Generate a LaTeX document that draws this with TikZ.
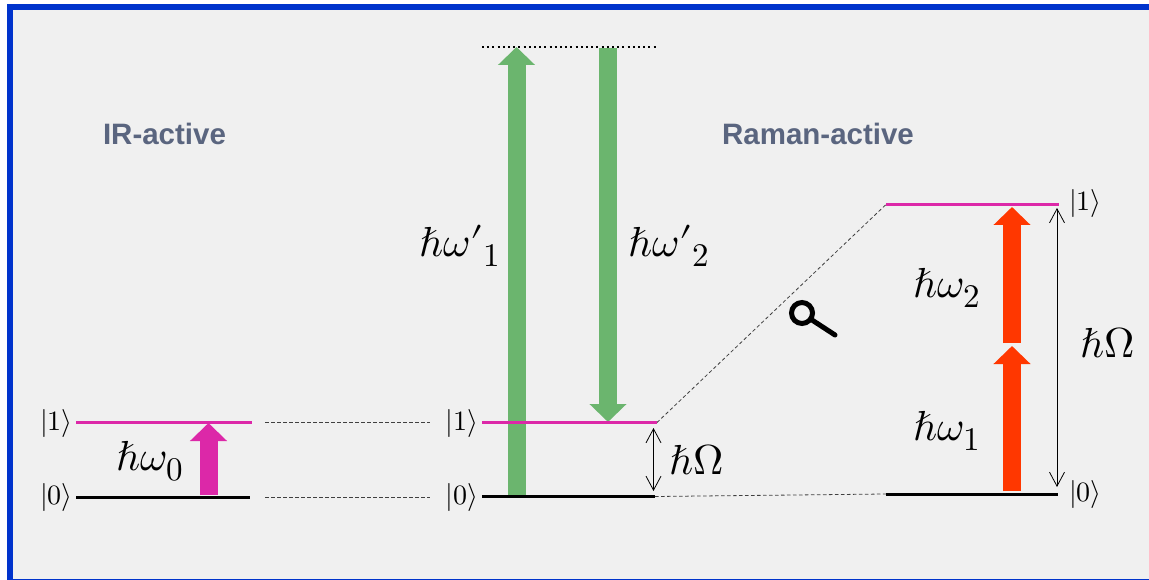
\documentclass[tikz,border=0pt]{standalone}
\usepackage{fontspec}
\usepackage{unicode-math}
\setmainfont{Liberation Sans}
\setmathfont{Latin Modern Math}
\DeclareMathSizes{42}{42}{33}{25}
\usetikzlibrary{arrows.meta}
\definecolor{framecol}{HTML}{0033CC}
\definecolor{panelcol}{HTML}{F0F0F0}
\definecolor{pinkcol}{HTML}{DC28A8}
\definecolor{greencol}{HTML}{6BB56E}
\definecolor{redcol}{HTML}{FF3700}
\definecolor{titlecol}{HTML}{5A657F}
\tikzset{
  lvlpink/.style={draw=pinkcol,line width=3pt},
  lvlblack/.style={draw=black,line width=3pt},
  guide/.style={draw=black!75,line width=0.8pt,dash pattern=on 3.5pt off 2.5pt},
  fat/.style={line width=18pt,-{Triangle[length=18pt,width=36pt]}},
  gap/.style={line width=0.8pt,{Straight Barb[length=14pt,width=15pt]}-{Straight Barb[length=14pt,width=15pt]}},
  ket/.style={font=\fontsize{28}{30}\selectfont},
  energy/.style={font=\fontsize{42}{44}\selectfont},
  heading/.style={font=\fontsize{29.5}{32}\selectfont\bfseries,text=titlecol},
}
\begin{document}
\begin{tikzpicture}[x=1pt,y=-1pt]
  \useasboundingbox (0,0) rectangle (1149,580);
  % frame
  \fill[framecol] (7,4) rectangle (1149,580);
  \fill[panelcol] (13,10) rectangle (1149,578.5);
  % level ends
  \coordinate (LoneA) at (76,422.5);
  \coordinate (LoneB) at (252,422.5);
  \coordinate (LzeroA) at (76,497);
  \coordinate (LzeroB) at (250,497);
  \coordinate (MoneA) at (482,422.5);
  \coordinate (MoneB) at (657,422.5);
  \coordinate (MzeroA) at (482,496.5);
  \coordinate (MzeroB) at (655,496.5);
  \coordinate (RoneA) at (886,204.5);
  \coordinate (RoneB) at (1059,204.5);
  \coordinate (RzeroA) at (886,494);
  \coordinate (RzeroB) at (1058,494);
  \coordinate (VirtA) at (482,47);
  \coordinate (VirtB) at (657,47);
  % guides
  \draw[guide] (265,422.5) -- (430,422.5);
  \draw[guide] (265,497) -- (430,497);
  \draw[guide] (MoneB) -- (RoneA);
  \draw[guide] (MzeroB) -- (RzeroA);
  \draw[black,line width=2pt,dash pattern=on 2pt off 3.2pt] (VirtA) -- (VirtB);
  % arrows
  \draw[fat,pinkcol] (208.5,495) -- (208.5,423);
  \draw[fat,greencol] (516.5,495) -- (516.5,47);
  \draw[fat,greencol] (608,48) -- (608,422);
  \draw[fat,redcol] (1012,343) -- (1012,207);
  \draw[fat,redcol] (1012,491) -- (1012,346);
  % levels
  \draw[lvlpink] (LoneA) -- (LoneB);
  \draw[lvlblack] (LzeroA) -- (LzeroB);
  \draw[lvlpink] (MoneA) -- (MoneB);
  \draw[lvlblack] (MzeroA) -- (MzeroB);
  \draw[lvlpink] (RoneA) -- (RoneB);
  \draw[lvlblack] (RzeroA) -- (RzeroB);
  % gaps
  \draw[gap] (653.5,428) -- (653.5,491);
  \draw[gap] (1057,208) -- (1057,487);
  % magnifier
  \draw[line width=5pt] (802,313) circle (10.5);
  \draw[line width=5pt,line cap=round] (812,320) -- (835,335);
  % texts
  \node[heading] (irtitle) at (164.5,134) {IR-active};
  \node[heading] (ramantitle) at (818,134) {Raman-active};
  \node[ket] (ketLone) at (56.5,423) {$|1\rangle$};
  \node[ket] (ketLzero) at (56.5,497) {$|0\rangle$};
  \node[ket] (ketMone) at (462,423) {$|1\rangle$};
  \node[ket] (ketMzero) at (462,497) {$|0\rangle$};
  \node[ket] (ketRone) at (1085.5,204) {$|1\rangle$};
  \node[ket] (ketRzero) at (1085.5,494) {$|0\rangle$};
  \node[energy] (wzero) at (150,461) {$\hbar\omega_0$};
  \node[energy] (wpone) at (460,246) {$\hbar\omega{\prime}_1$};
  \node[energy] (wptwo) at (669,246) {$\hbar\omega{\prime}_2$};
  \node[energy] (wtwo) at (947,288) {$\hbar\omega_2$};
  \node[energy] (wone) at (947,431) {$\hbar\omega_1$};
  \node[energy] (omegaM) at (697,460) {$\hbar\Omega$};
  \node[energy] (omegaR) at (1108,343) {$\hbar\Omega$};
\end{tikzpicture}
\end{document}
